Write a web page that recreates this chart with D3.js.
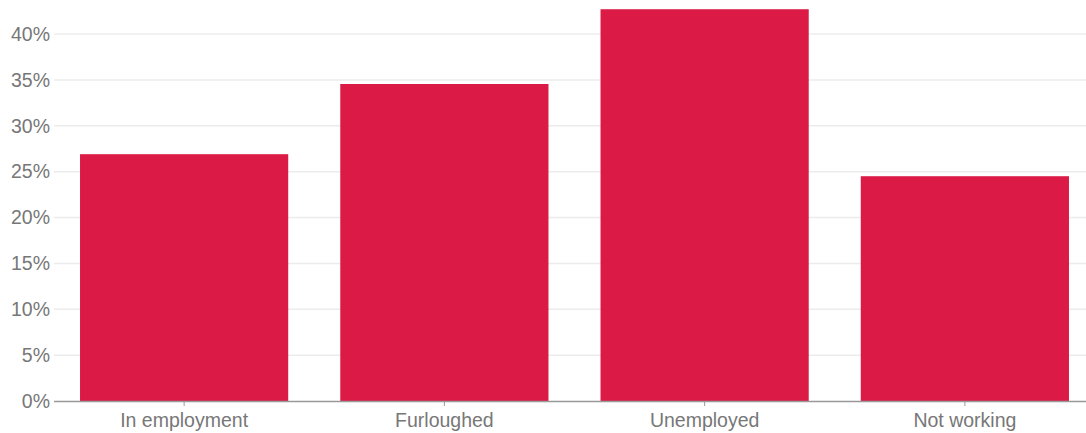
<!DOCTYPE html>
<html><head><meta charset="utf-8">
<script src="https://cdn.jsdelivr.net/npm/d3@7"></script>
<style>body{margin:0;background:#fff}svg{display:block}</style>
</head><body><svg id="c" width="1086" height="433"></svg>
<script>
const categories = ["In employment", "Furloughed", "Unemployed", "Not working"];
const values = [0.269, 0.3455, 0.427, 0.245];
const yTicks = [0, 0.05, 0.10, 0.15, 0.20, 0.25, 0.30, 0.35, 0.40];

const svg = d3.select("#c");
const x = d3.scaleBand().domain(categories).range([54, 1095]).paddingInner(0.2).paddingOuter(0.1);
const y = d3.scaleLinear().domain([0, 0.4]).range([401, 34]);
const font = "'Liberation Sans', Arial, sans-serif";

// gridlines
svg.append("g").selectAll("line").data(yTicks.filter(d => d > 0)).join("line")
  .attr("x1", 54).attr("x2", 1086)
  .attr("y1", d => y(d)).attr("y2", d => y(d))
  .attr("stroke", "#ececec").attr("stroke-width", 1.5);

// bars
svg.append("g").selectAll("rect").data(categories).join("rect")
  .attr("x", d => x(d)).attr("width", x.bandwidth())
  .attr("y", (d, i) => y(values[i])).attr("height", (d, i) => y(0) - y(values[i]))
  .attr("fill", "#dc1a46");

// y axis
const yAxis = d3.axisLeft(y).tickValues(yTicks).tickFormat(d3.format(".0%")).tickSize(0).tickPadding(4);
const gy = svg.append("g").attr("transform", "translate(54,0)").call(yAxis);
gy.select(".domain").remove();
gy.selectAll("text").attr("font-family", font).attr("font-size", 19.5).attr("fill", "#777");

// x axis
const xAxis = d3.axisBottom(x).tickSize(5).tickPadding(7);
const gx = svg.append("g").attr("transform", "translate(0,401)").call(xAxis);
gx.select(".domain").attr("d", "M54,0.5H1086").attr("stroke", "#999").attr("stroke-width", 1.5);
gx.selectAll(".tick line").attr("stroke", "#999");
gx.selectAll("text").attr("font-family", font).attr("font-size", 19.5).attr("fill", "#777");
</script></body></html>
